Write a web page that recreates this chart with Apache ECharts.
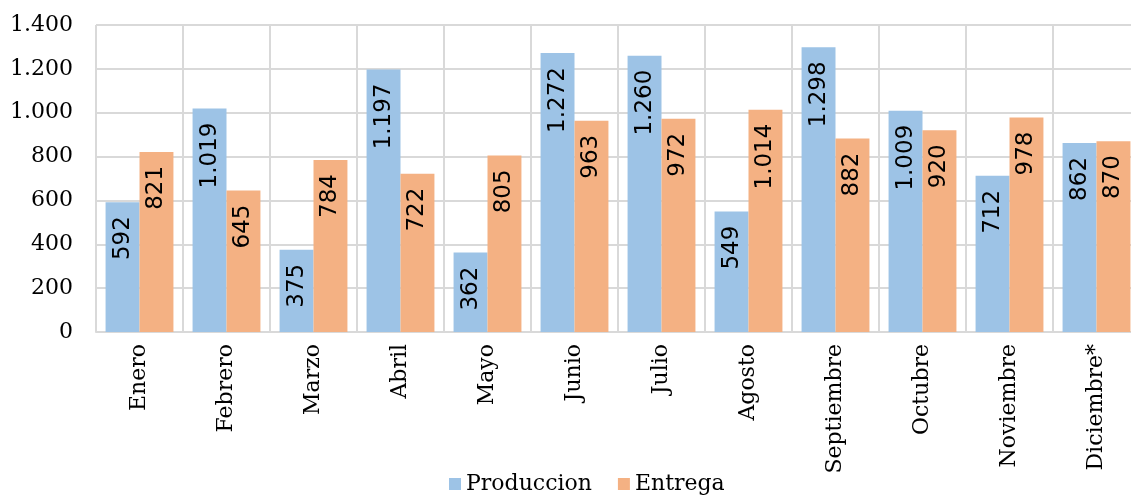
<!DOCTYPE html>
<html>
<head>
<meta charset="utf-8">
<script src="https://cdn.jsdelivr.net/npm/echarts@6/dist/echarts.min.js"></script>
<style>
  html, body { margin: 0; padding: 0; background: #fff; }
  #chart { width: 1131px; height: 498px; }
</style>
</head>
<body>
<div id="chart"></div>
<script>
const months = ['Enero', 'Febrero', 'Marzo', 'Abril', 'Mayo', 'Junio', 'Julio',
  'Agosto', 'Septiembre', 'Octubre', 'Noviembre', 'Diciembre*']
const produccion = [592, 1019, 375, 1197, 362, 1272, 1260, 549, 1298, 1009, 712, 862]
const entrega = [821, 645, 784, 722, 805, 963, 972, 1014, 882, 920, 978, 870]
const seriesNames = ['Produccion', 'Entrega']

const serif = 'DejaVu Serif'
const sans = 'DejaVu Sans'

// miles con punto, como en el original
const fmt = (v) => String(v).replace(/\B(?=(\d{3})+(?!\d))/g, '.')

const chart = echarts.init(document.getElementById('chart'))

const barLabel = {
  show: true,
  position: 'insideTop',
  rotate: 90,
  align: 'right',
  verticalAlign: 'middle',
  distance: 14,
  fontFamily: sans,
  fontSize: 23,
  color: '#000',
  formatter: (p) => fmt(p.value),
}

chart.setOption({
  animation: false,
  // the plot runs a bit past the right edge in the original
  grid: { left: 96, top: 25, bottom: 166, right: -9, outerBoundsMode: 'none' },
  legend: {
    data: seriesNames,
    bottom: -2,
    left: 444,
    icon: 'rect',
    itemWidth: 12,
    itemHeight: 12,
    itemGap: 26,
    textStyle: { fontFamily: serif, fontSize: 22, color: '#000' },
  },
  xAxis: {
    type: 'category',
    data: months,
    axisLine: { lineStyle: { color: '#d9d9d9', width: 2 } },
    axisTick: { show: false },
    splitLine: { show: true, lineStyle: { color: '#d9d9d9', width: 2 } },
    axisLabel: {
      rotate: 90,
      margin: 12,
      interval: 0,
      fontFamily: serif,
      fontSize: 22,
      color: '#000',
    },
  },
  yAxis: {
    type: 'value',
    min: 0,
    max: 1400,
    interval: 200,
    axisLine: { show: false },
    axisTick: { show: false },
    splitLine: { lineStyle: { color: '#d9d9d9', width: 2 } },
    axisLabel: {
      margin: 23,
      fontFamily: serif,
      fontSize: 22,
      color: '#000',
      formatter: fmt,
    },
  },
  series: [
    {
      name: seriesNames[0],
      type: 'bar',
      data: produccion,
      barGap: '0%',
      barCategoryGap: '22%',
      itemStyle: { color: '#9dc3e6' },
      label: barLabel,
    },
    {
      name: seriesNames[1],
      type: 'bar',
      data: entrega,
      itemStyle: { color: '#f4b183' },
      label: barLabel,
    },
  ],
})
</script>
</body>
</html>
